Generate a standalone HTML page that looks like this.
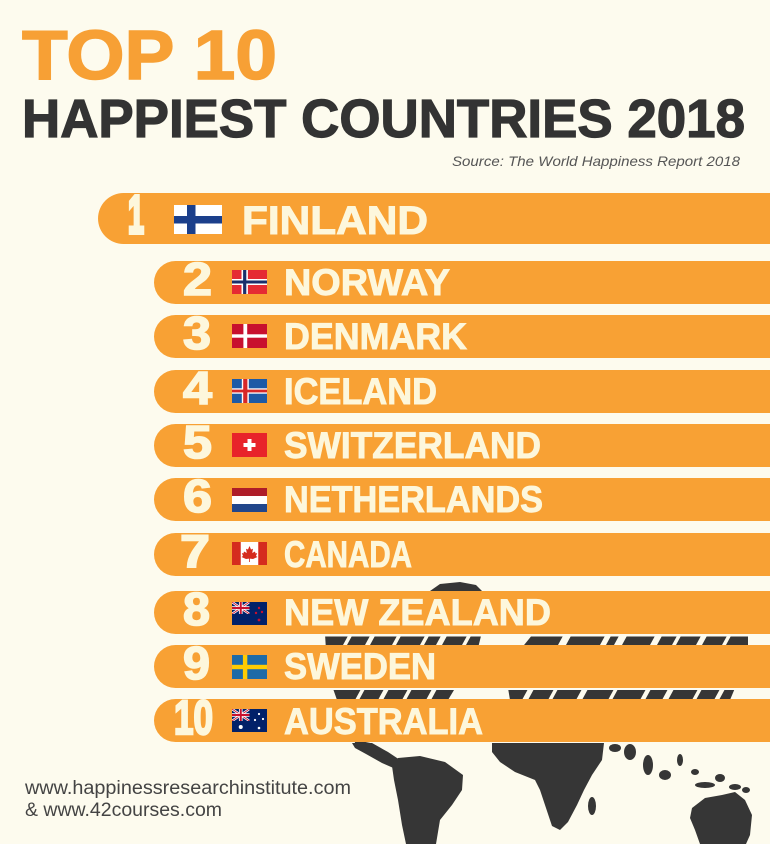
<!DOCTYPE html>
<html><head><meta charset="utf-8">
<style>html,body{margin:0;padding:0;background:#fdfbee;}svg{display:block}</style></head>
<body>
<svg width="770" height="844" viewBox="0 0 770 844" xmlns="http://www.w3.org/2000/svg">
<defs>
<clipPath id="ujc"><rect x="0" y="0" width="17.5" height="12"/></clipPath>
<g id="uj" clip-path="url(#ujc)">
 <rect width="17.5" height="12" fill="#012169"/>
 <path d="M0,0 L17.5,12 M17.5,0 L0,12" stroke="#fff" stroke-width="2.4"/>
 <path d="M0,0 L17.5,12 M17.5,0 L0,12" stroke="#c8102e" stroke-width="0.9"/>
 <path d="M8.75,0 V12 M0,6 H17.5" stroke="#fff" stroke-width="3.6"/>
 <path d="M8.75,0 V12 M0,6 H17.5" stroke="#c8102e" stroke-width="2"/>
</g>
</defs>
<rect width="770" height="844" fill="#fdfbee"/>

<!-- world map -->
<g fill="#363636">
 <polygon points="430,591 440,584 460,582 476,585 482,591 470,600 440,600"/>
 <polygon points="325,634 350,630 420,628 482,632 478,648 460,680 448,700 420,712 400,725 380,740 356,745 345,720 337,700 330,680 326,650"/>
 <polygon points="352,743 372,743 388,752 400,760 412,767 410,774 398,770 382,763 366,754 355,748"/>
 <polygon points="398,758 420,756 445,762 463,775 462,790 452,805 440,820 436,844 406,844 402,825 398,800 394,780 392,766"/>
 <polygon points="533,634 748,634 748,645 735,688 730,700 510,700 508,688 520,650"/>
 <polygon points="492,743 604,743 602,760 592,775 584,790 577,805 568,822 560,830 552,826 546,808 540,790 535,780 515,772 500,762 492,752"/>
 <ellipse cx="592" cy="806" rx="4" ry="9"/>
 <ellipse cx="630" cy="752" rx="6" ry="8"/>
 <ellipse cx="615" cy="748" rx="6" ry="4"/>
 <ellipse cx="648" cy="765" rx="5" ry="10"/>
 <ellipse cx="665" cy="775" rx="6" ry="5"/>
 <ellipse cx="680" cy="760" rx="3" ry="6"/>
 <ellipse cx="695" cy="772" rx="4" ry="3"/>
 <ellipse cx="705" cy="785" rx="10" ry="3"/>
 <ellipse cx="720" cy="778" rx="5" ry="4"/>
 <ellipse cx="735" cy="787" rx="6" ry="3"/>
 <ellipse cx="746" cy="790" rx="4" ry="3"/>
 <polygon points="692,808 705,798 722,795 735,792 745,800 752,815 750,835 746,844 700,844 695,830 690,818"/>
</g>
<!-- texture cuts in map -->
<g fill="#fdfbee">
 <rect x="320" y="634" width="440" height="2.5"/>
 <rect x="320" y="688" width="440" height="2"/>
 <path d="M343,645 l4,0 l6,-11 l-4,0 z M365,645 l5,0 l6,-11 l-5,0 z M392,645 l4,0 l6,-11 l-4,0 z M420,645 l4,0 l6,-11 l-4,0 z M436,645 l6,0 l6,-11 l-6,0 z M462,645 l4,0 l6,-11 l-4,0 z"/>
 <path d="M558,645 l8,0 l6,-11 l-8,0 z M600,645 l6,0 l6,-11 l-6,0 z M614,645 l8,0 l6,-11 l-8,0 z M650,645 l7,0 l6,-11 l-7,0 z M672,645 l4,0 l6,-11 l-4,0 z M696,645 l6,0 l6,-11 l-6,0 z M722,645 l4,0 l6,-11 l-4,0 z"/>
 <path d="M355,700 l4,0 l6,-11 l-4,0 z M378,700 l5,0 l6,-11 l-5,0 z M402,700 l4,0 l6,-11 l-4,0 z M426,700 l5,0 l6,-11 l-5,0 z"/>
 <path d="M522,700 l6,0 l6,-11 l-6,0 z M548,700 l4,0 l6,-11 l-4,0 z M576,700 l6,0 l6,-11 l-6,0 z M608,700 l4,0 l6,-11 l-4,0 z M640,700 l5,0 l6,-11 l-5,0 z M662,700 l6,0 l6,-11 l-6,0 z M692,700 l4,0 l6,-11 l-4,0 z M714,700 l5,0 l6,-11 l-5,0 z"/>
</g>

<!-- Title -->
<text x="22" y="79" font-family="Liberation Sans, sans-serif" font-weight="bold" font-size="70" fill="#f7a035" stroke="#f7a035" stroke-width="1.5" textLength="255" lengthAdjust="spacingAndGlyphs">TOP 10</text>
<text x="22" y="137" font-family="Liberation Sans, sans-serif" font-weight="bold" font-size="54" fill="#333333" stroke="#333333" stroke-width="1.2" textLength="723" lengthAdjust="spacingAndGlyphs">HAPPIEST COUNTRIES 2018</text>
<text x="452" y="166" font-family="Liberation Sans, sans-serif" font-style="italic" font-size="14" fill="#555555" textLength="288" lengthAdjust="spacingAndGlyphs">Source: The World Happiness Report 2018</text>

<!-- Bars -->
<g fill="#f8a134">
 <path d="M770,193 H123.5 A25.5,25.5 0 0 0 123.5,244 H770 Z"/>
 <path d="M770,261 H175.5 A21.5,21.5 0 0 0 175.5,304 H770 Z"/>
 <path d="M770,315 H175.5 A21.5,21.5 0 0 0 175.5,358 H770 Z"/>
 <path d="M770,370 H175.5 A21.5,21.5 0 0 0 175.5,413 H770 Z"/>
 <path d="M770,424 H175.5 A21.5,21.5 0 0 0 175.5,467 H770 Z"/>
 <path d="M770,478 H175.5 A21.5,21.5 0 0 0 175.5,521 H770 Z"/>
 <path d="M770,533 H175.5 A21.5,21.5 0 0 0 175.5,576 H770 Z"/>
 <path d="M770,591 H175.5 A21.5,21.5 0 0 0 175.5,634 H770 Z"/>
 <path d="M770,645 H175.5 A21.5,21.5 0 0 0 175.5,688 H770 Z"/>
 <path d="M770,699 H175.5 A21.5,21.5 0 0 0 175.5,742 H770 Z"/>
</g>

<!-- Numbers & names -->
<g font-family="Liberation Sans, sans-serif" font-weight="bold" fill="#fdf7dc" stroke="#fdf7dc">
 <text x="128" y="233" font-size="54" stroke-width="4" textLength="16" lengthAdjust="spacingAndGlyphs">1</text>
 <text x="242" y="234" font-size="40" stroke-width="1" textLength="186" lengthAdjust="spacingAndGlyphs">FINLAND</text>
</g>
<g font-family="Liberation Sans, sans-serif" font-weight="bold" fill="#fdf7dc" stroke="#fdf7dc" stroke-width="1.6" font-size="46">
 <text x="183" y="295" textLength="29" lengthAdjust="spacingAndGlyphs">2</text>
 <text x="183" y="349" textLength="28" lengthAdjust="spacingAndGlyphs">3</text>
 <text x="183" y="404" textLength="29" lengthAdjust="spacingAndGlyphs">4</text>
 <text x="183" y="458" textLength="29" lengthAdjust="spacingAndGlyphs">5</text>
 <text x="183" y="512" textLength="29" lengthAdjust="spacingAndGlyphs">6</text>
 <text x="180" y="567" textLength="30" lengthAdjust="spacingAndGlyphs">7</text>
 <text x="183" y="625" textLength="27" lengthAdjust="spacingAndGlyphs">8</text>
 <text x="183" y="679" textLength="27" lengthAdjust="spacingAndGlyphs">9</text>
 <text x="174" y="734" font-size="48" stroke-width="2.5" textLength="39" lengthAdjust="spacingAndGlyphs">10</text>
</g>
<g font-family="Liberation Sans, sans-serif" font-weight="bold" fill="#fdf7dc" stroke="#fdf7dc" stroke-width="0.9" font-size="37">
 <text x="284" y="295" textLength="166" lengthAdjust="spacingAndGlyphs">NORWAY</text>
 <text x="284" y="349" textLength="183" lengthAdjust="spacingAndGlyphs">DENMARK</text>
 <text x="284" y="404" textLength="153" lengthAdjust="spacingAndGlyphs">ICELAND</text>
 <text x="284" y="458" textLength="257" lengthAdjust="spacingAndGlyphs">SWITZERLAND</text>
 <text x="284" y="512" textLength="259" lengthAdjust="spacingAndGlyphs">NETHERLANDS</text>
 <text x="284" y="567" textLength="128" lengthAdjust="spacingAndGlyphs">CANADA</text>
 <text x="284" y="625" textLength="267" lengthAdjust="spacingAndGlyphs">NEW ZEALAND</text>
 <text x="284" y="679" textLength="152" lengthAdjust="spacingAndGlyphs">SWEDEN</text>
 <text x="284" y="734" textLength="199" lengthAdjust="spacingAndGlyphs">AUSTRALIA</text>
</g>

<!-- Flags -->
<!-- Finland -->
<g>
 <rect x="174" y="205" width="48" height="29" fill="#ffffff"/>
 <rect x="187" y="205" width="8.5" height="29" fill="#1b3f8b"/>
 <rect x="174" y="216" width="48" height="7.5" fill="#1b3f8b"/>
</g>
<!-- Norway -->
<g transform="translate(232,270)">
 <rect width="35" height="24" fill="#e52b33"/>
 <rect x="9.5" width="6.4" height="24" fill="#fff"/>
 <rect y="9" width="35" height="6" fill="#fff"/>
 <rect x="11.1" width="3.2" height="24" fill="#1b2f6b"/>
 <rect y="10.5" width="35" height="3" fill="#1b2f6b"/>
</g>
<!-- Denmark -->
<g transform="translate(232,324)">
 <rect width="35" height="24" fill="#c8102e"/>
 <rect x="11.4" width="3.8" height="24" fill="#fff"/>
 <rect y="10.3" width="35" height="3.4" fill="#fff"/>
</g>
<!-- Iceland -->
<g transform="translate(232,379)">
 <rect width="35" height="24" fill="#1d5aa6"/>
 <rect x="9.8" width="7" height="24" fill="#fff"/>
 <rect y="9.3" width="35" height="5.4" fill="#fff"/>
 <rect x="11.2" width="4.2" height="24" fill="#d72828"/>
 <rect y="10.6" width="35" height="2.8" fill="#d72828"/>
</g>
<!-- Switzerland -->
<g transform="translate(232,433)">
 <rect width="35" height="24" fill="#e8232a"/>
 <rect x="15.5" y="6" width="4" height="12" fill="#fff"/>
 <rect x="11.5" y="10" width="12" height="4" fill="#fff"/>
</g>
<!-- Netherlands -->
<g transform="translate(232,488)">
 <rect width="35" height="8" fill="#ae1c28"/>
 <rect y="8" width="35" height="8" fill="#fff"/>
 <rect y="16" width="35" height="8" fill="#21468b"/>
</g>
<!-- Canada -->
<g transform="translate(232,542)">
 <rect width="35" height="23" fill="#fff"/>
 <rect width="8.75" height="23" fill="#d52b1e"/>
 <rect x="26.25" width="8.75" height="23" fill="#d52b1e"/>
 <polygon points="17.5,4 19,7.5 21,6.8 20.2,11 23,9.5 23.6,11.5 25.2,11 24,14 25.5,15 21,17 17.9,16.6 17.9,20 17.1,20 17.1,16.6 14,17 9.5,15 11,14 9.8,11 11.4,11.5 12,9.5 14.8,11 14,6.8 16,7.5" fill="#d52b1e"/>
</g>
<!-- New Zealand -->
<g transform="translate(232,602)">
 <rect width="35" height="23" fill="#012169"/>
 <use href="#uj"/>
 <circle cx="27" cy="6" r="1.2" fill="#c8102e"/>
 <circle cx="24" cy="11" r="1.2" fill="#c8102e"/>
 <circle cx="30" cy="10" r="1.2" fill="#c8102e"/>
 <circle cx="27" cy="18" r="1.4" fill="#c8102e"/>
</g>
<!-- Sweden -->
<g transform="translate(232,655)">
 <rect width="35" height="24" fill="#1e6aa7"/>
 <rect x="10.9" width="4.4" height="24" fill="#fecc02"/>
 <rect y="9.8" width="35" height="4.4" fill="#fecc02"/>
</g>
<!-- Australia -->
<g transform="translate(232,709)">
 <rect width="35" height="23" fill="#012169"/>
 <use href="#uj"/>
 <circle cx="8.75" cy="18" r="2" fill="#fff"/>
 <circle cx="27" cy="5" r="1.1" fill="#fff"/>
 <circle cx="23" cy="11" r="1.1" fill="#fff"/>
 <circle cx="31" cy="10" r="1.1" fill="#fff"/>
 <circle cx="27" cy="19" r="1.3" fill="#fff"/>
</g>

<!-- Footer -->
<g font-family="Liberation Sans, sans-serif" font-size="19" fill="#444444">
 <text x="25" y="794" textLength="326" lengthAdjust="spacingAndGlyphs">www.happinessresearchinstitute.com</text>
 <text x="25" y="816" textLength="197" lengthAdjust="spacingAndGlyphs">&amp; www.42courses.com</text>
</g>
</svg>
</body></html>
